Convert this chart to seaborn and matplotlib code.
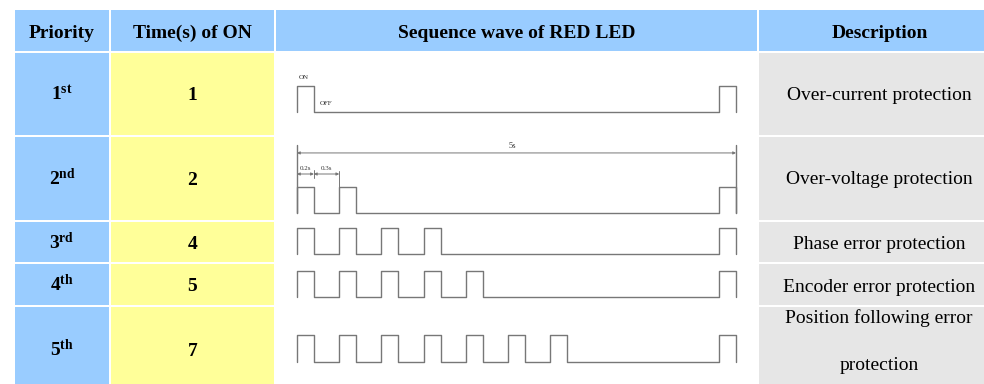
import numpy as np
import pandas as pd
import seaborn as sns
import matplotlib.pyplot as plt
from matplotlib.patches import Rectangle

# table content
headers = ['Priority', 'Time(s) of ON', 'Sequence wave of RED LED', 'Description']
priorities = ['1', '2', '3', '4', '5']
suffixes = ['st', 'nd', 'rd', 'th', 'th']
on_times = [1, 2, 4, 5, 7]
descriptions = ['Over-current protection', 'Over-voltage protection', 'Phase error protection',
                'Encoder error protection', 'Position following error\nprotection']

# wave timing (seconds)
ON_WIDTH = 0.2
OFF_WIDTH = 0.3
CYCLE = 5.0

sns.set_theme(style='white')
plt.rcParams['font.family'] = ['Liberation Serif', 'DejaVu Serif']
plt.rcParams['text.color'] = 'black'
plt.rcParams['mathtext.fontset'] = 'custom'
plt.rcParams['mathtext.rm'] = 'Liberation Serif'
plt.rcParams['mathtext.bf'] = 'Liberation Serif:bold'
plt.rcParams['mathtext.it'] = 'Liberation Serif:italic'

W, H = 984, 384
fig = plt.figure(figsize=(W / 100, H / 100), dpi=100)
bg = fig.add_axes([0, 0, 1, 1])
bg.set_xlim(0, W)
bg.set_ylim(H, 0)
bg.axis('off')

BLUE, YELLOW, GREY, WHITE = '#99ccff', '#ffff99', '#e6e6e6', '#ffffff'
col_edges = [(15, 109), (111, 274), (276, 757), (759, 984)]
row_edges = [(10, 51), (53, 135), (137, 220), (222, 262), (264, 305), (307, 384)]
col_colors = [BLUE, YELLOW, WHITE, GREY]
col_centers = [62, 192.5, 516.5, 880]

for r, (y0, y1) in enumerate(row_edges):
    for c, (x0, x1) in enumerate(col_edges):
        color = BLUE if r == 0 else col_colors[c]
        bg.add_patch(Rectangle((x0, y0), x1 - x0, y1 - y0, facecolor=color, lw=0))

# header text
for c, label in enumerate(headers):
    bg.text(col_centers[c], 38, label, ha='center', va='baseline', fontsize=14, fontweight='bold')

row_base = [100, 185, 249, 291, 356]
desc_base = [99.5, 184, 249, 292.5, 323]
for i in range(len(priorities)):
    bg.text(col_centers[0], row_base[i], r'$\mathbf{%s^{%s}}$' % (priorities[i], suffixes[i]),
            ha='center', va='baseline', fontsize=14)
    bg.text(col_centers[1], row_base[i], str(on_times[i]), ha='center', va='baseline',
            fontsize=14, fontweight='bold')
    for k, line in enumerate(descriptions[i].split('\n')):
        bg.text(879, desc_base[i] + 47 * k, line, ha='center', va='baseline', fontsize=14)

# waveforms
WAVE_X0, WAVE_X1 = 297, 736
levels = [(86, 112), (187, 213), (228, 254), (271, 297), (335, 362)]
wave_color = '#777777'
t_end = CYCLE + ON_WIDTH

wave_axes = []
for i, n in enumerate(on_times):
    yh, yl = levels[i]
    ax = fig.add_axes([WAVE_X0 / W, 1 - yl / H, (WAVE_X1 - WAVE_X0) / W, (yl - yh) / H])
    rises = [k * (ON_WIDTH + OFF_WIDTH) for k in range(n)] + [CYCLE]
    xs, ys = [0.0], [0]
    for t in rises:
        xs += [t, t + ON_WIDTH]
        ys += [1, 0]
    df = pd.DataFrame({'t': xs, 'level': ys})
    sns.lineplot(data=df, x='t', y='level', ax=ax, color=wave_color, lw=1.0,
                 drawstyle='steps-post', estimator=None, sort=False, legend=False)
    for ln in ax.lines:
        ln.set_clip_on(False)
    ax.set_xlim(0, t_end)
    ax.set_ylim(0, 1)
    ax.axis('off')
    wave_axes.append(ax)

# labels on first wave
ax = wave_axes[0]
ax.text(0.02, 1.27, 'ON', fontsize=5, ha='left', va='baseline', color='#333333')
ax.text(0.27, 0.27, 'OFF', fontsize=5, ha='left', va='baseline', color='#333333')

# dimension marks on second wave
ax = wave_axes[1]
arrow_kw = dict(arrowstyle='<|-|>', lw=0.7, color=wave_color, mutation_scale=4, shrinkA=0, shrinkB=0)
for t in [0, t_end]:
    ax.plot([t, t], [0, 2.62], color=wave_color, lw=1.0, clip_on=False)
ax.annotate('', xy=(0, 2.31), xytext=(t_end, 2.31), arrowprops=arrow_kw, annotation_clip=False)
ax.text(t_end / 2 - 0.05, 2.5, '%gs' % CYCLE, fontsize=6, ha='center', va='baseline', color='#333333')
ax.annotate('', xy=(0, 1.5), xytext=(ON_WIDTH, 1.5), arrowprops=arrow_kw, annotation_clip=False)
ax.annotate('', xy=(ON_WIDTH, 1.5), xytext=(ON_WIDTH + OFF_WIDTH, 1.5), arrowprops=arrow_kw,
            annotation_clip=False)
ax.plot([ON_WIDTH, ON_WIDTH], [1.35, 1.65], color=wave_color, lw=0.7, clip_on=False)
ax.plot([ON_WIDTH + OFF_WIDTH] * 2, [1.0, 1.62], color=wave_color, lw=0.7, clip_on=False)
ax.text(ON_WIDTH / 2, 1.65, '%gs' % ON_WIDTH, fontsize=5, ha='center', va='baseline', color='#333333')
ax.text(ON_WIDTH + OFF_WIDTH / 2, 1.65, '%gs' % OFF_WIDTH, fontsize=5, ha='center', va='baseline',
        color='#333333')

fig.savefig('out.png', dpi=100)
